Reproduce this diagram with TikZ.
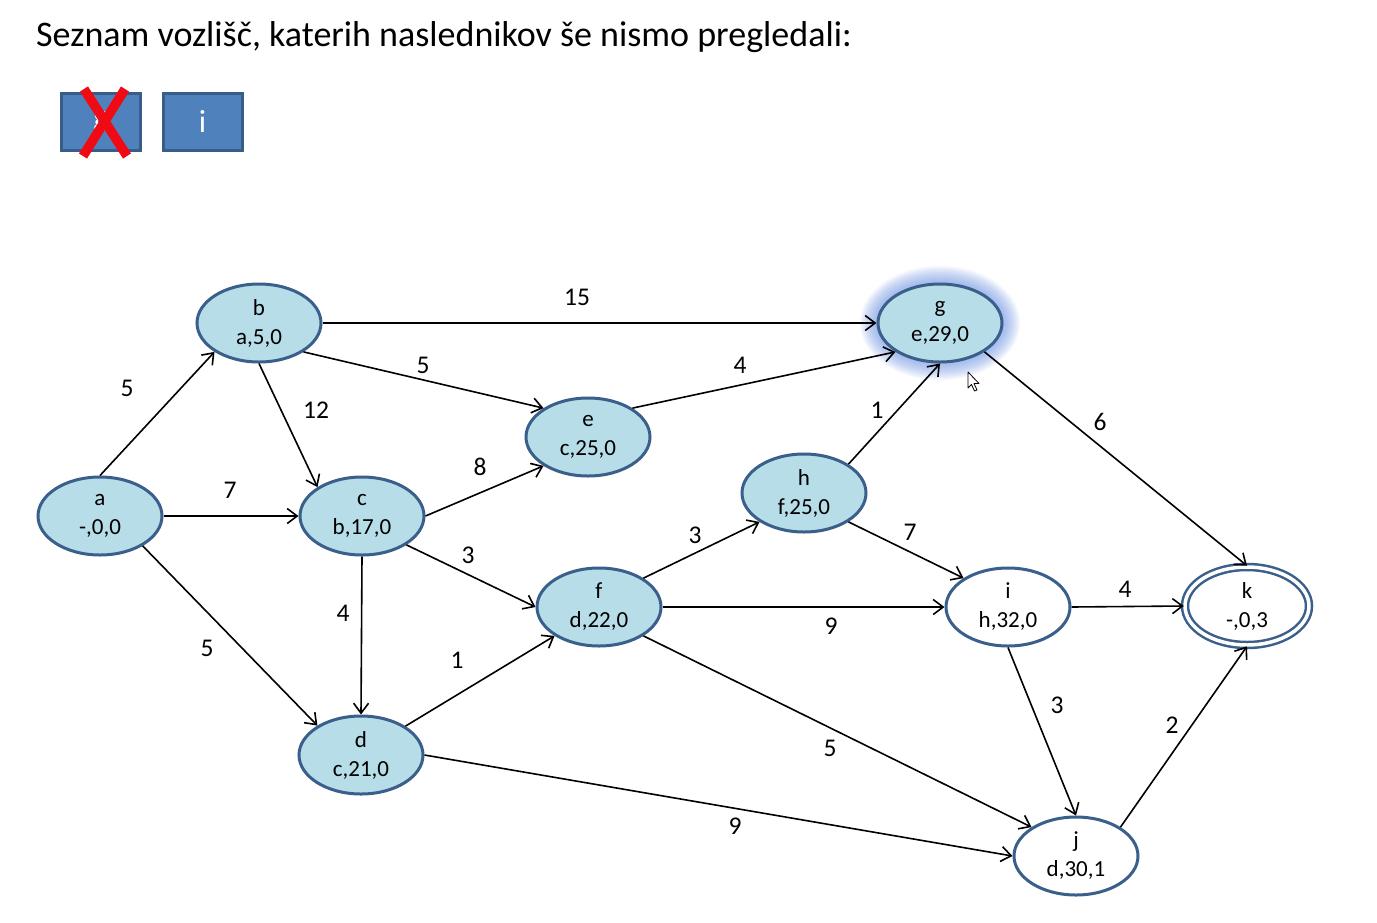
\documentclass[tikz,border=0pt]{standalone}
\usepackage{fontspec}
\setmainfont{Carlito}
\usetikzlibrary{arrows.meta,shapes.geometric}
\definecolor{nodefill}{RGB}{183,221,232}
\definecolor{nodeline}{RGB}{58,95,139}
\definecolor{boxfill}{RGB}{79,129,189}
\definecolor{boxline}{RGB}{56,93,138}
\definecolor{glowc}{RGB}{95,140,228}
\definecolor{xred}{RGB}{240,10,20}
\begin{document}
\begin{tikzpicture}[x=1pt,y=-1pt,
  vert/.style={ellipse,draw=nodeline,line width=3pt,fill=nodefill,minimum width=124pt,minimum height=78pt,inner sep=0pt,align=center,font=\fontsize{23}{29}\selectfont,execute at begin node={\rule{0pt}{21pt}}},
  wvert/.style={vert,fill=white},
  arc/.style={line width=1.6pt,-{Straight Barb[length=10pt,width=15pt]}},
  wlabel/.style={font=\fontsize{25.5}{30}\selectfont,inner sep=0pt},
  listbox/.style={draw=boxline,line width=3pt,fill=boxfill,minimum width=79pt,minimum height=57pt,inner sep=0pt,text=white,font=\fontsize{32}{36}\selectfont}
]
\useasboundingbox (0,0) rectangle (1377,922);
\fill[white] (0,0) rectangle (1377,922);

\node[anchor=base west,inner sep=0pt,font=\fontsize{36}{40}\selectfont] (title) at (36,46) {Seznam vozlišč, katerih naslednikov še nismo pregledali:};

\node[listbox] (box1) at (101,121.5) {g};
\node[listbox] (box2) at (202.5,121.5) {i};
\draw[xred,line width=9.5pt] (84,89) -- (127,156);
\draw[xred,line width=9.5pt] (125,89) -- (83,156);

% glow of g
\foreach \d in {18,16.5,...,1}
  \fill[glowc,opacity=0.065] (940,323) ellipse [x radius=62+\d, y radius=39+\d];

\node[vert] (a) at (100,516) {a\\-,0,0};
\node[vert] (b) at (259,323) {b\\a,5,0};
\node[vert] (c) at (362,516) {c\\b,17,0};
\node[vert] (d) at (361,755) {d\\c,21,0};
\node[vert] (e) at (588,437) {e\\c,25,0};
\node[vert] (f) at (599,607) {f\\d,22,0};
\node[vert] (g) at (940,323) {g\\e,29,0};
\node[vert] (h) at (804,493) {h\\f,25,0};
\node[wvert] (i) at (1008,607) {i\\h,32,0};
\node[wvert] (j) at (1076,856) {j\\d,30,1};
\node[wvert,double=white,double distance=3.5pt,line width=2.5pt] (k) at (1247,606) {k\\-,0,3};

\draw[arc] (a.90) -- (b.213);
\draw[arc] (a.east) -- (c.west);
\draw[arc] (a.325) -- (d.146);
\draw[arc] (b.east) -- (g.west);
\draw[arc] (b.327) -- (e.147);
\draw[arc] (b.south) -- (c.147);
\draw[arc] (c.east) -- (e.213);
\draw[arc] (c.327) -- (f.west);
\draw[arc] (c.south) -- (d.north);
\draw[arc] (d.33) -- (f.213);
\draw[arc] (d.east) -- (j.west);
\draw[arc] (e.33) -- (g.213);
\draw[arc] (f.33) -- (h.213);
\draw[arc] (f.east) -- (i.west);
\draw[arc] (f.327) -- (j.147);
\draw[arc] (h.33) -- (g.south);
\draw[arc] (h.327) -- (i.147);
\draw[arc] (g.327) -- (k.north);
\draw[arc] (i.east) -- (k.west);
\draw[arc] (i.south) -- (j.north);
\draw[arc] (j.33) -- (k.south);

\node[wlabel] (lab) at (127,388) {5};
\node[wlabel] (lac) at (230,490) {7};
\node[wlabel] (lad) at (207,648) {5};
\node[wlabel] (lbg) at (577,297) {15};
\node[wlabel] (lbe) at (423,365) {5};
\node[wlabel] (lbc) at (316,410) {12};
\node[wlabel] (lce) at (480,467) {8};
\node[wlabel] (lcf) at (468,555) {3};
\node[wlabel] (lcd) at (343,613) {4};
\node[wlabel] (ldf) at (457,660) {1};
\node[wlabel] (ldj) at (735,826) {9};
\node[wlabel] (leg) at (740,365) {4};
\node[wlabel] (lfh) at (695,535) {3};
\node[wlabel] (lfi) at (831,626) {9};
\node[wlabel] (lfj) at (830,748) {5};
\node[wlabel] (lhg) at (877,410) {1};
\node[wlabel] (lhi) at (910,532) {7};
\node[wlabel] (lgk) at (1100,422) {6};
\node[wlabel] (lik) at (1125,589) {4};
\node[wlabel] (lij) at (1057,705) {3};
\node[wlabel] (ljk) at (1172,725) {2};

% mouse pointer
\draw[fill=white,line width=0.8pt,line join=round] (968,372) -- (968,388) -- (971.5,384.5) -- (974.5,391) -- (977,390) -- (974,383.5) -- (979,383.5) -- cycle;
\end{tikzpicture}
\end{document}
